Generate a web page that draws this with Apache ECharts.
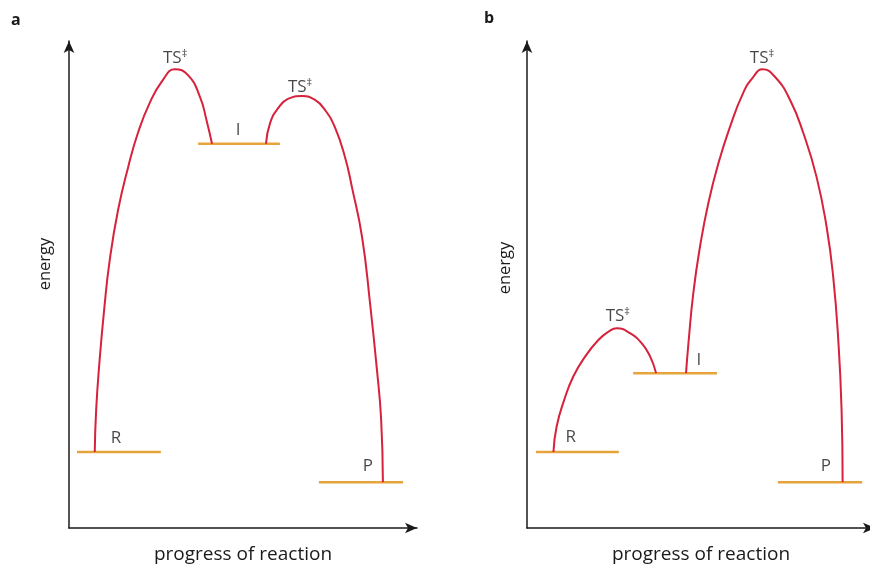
<!DOCTYPE html>
<html>
<head>
<meta charset="utf-8">
<script src="https://cdn.jsdelivr.net/npm/echarts@6/dist/echarts.min.js"></script>
<style>html,body{margin:0;padding:0;background:#fff}#c{width:870px;height:564px}</style>
</head>
<body>
<div id="c"></div>
<script>
// ---- Panel a data (x: progress 0-100, y: energy 0-100) ----
const aCurve1 = [[7.4,15.6],[7.8,24.2],[8.8,34.5],[10.1,44.8],[11.7,55.0],[14.1,65.3],[17.0,74.1],[19.8,81.1],[23.2,87.3],[27.0,92.0],[30.4,94.2],[34.2,93.0],[37.6,88.6],[39.5,83.8],[41.1,78.9]];
const aCurve2 = [[56.6,78.9],[57.8,83.2],[60.1,86.2],[62.9,88.1],[67.0,88.7],[70.7,87.9],[73.6,85.8],[76.4,82.3],[79.3,76.2],[81.3,70.0],[84.2,59.8],[86.5,46.2],[88.5,32.4],[89.7,22.2],[90.2,9.4]];
const aLevels = [[2.3,26.4,15.6],[37.1,60.6,78.9],[71.8,96.0,9.4]];
const aLabels = [[30.5,96.5,'TS'],[66.4,90.6,'TS'],[48.6,81.7,'I'],[13.5,18.5,'R'],[85.9,12.7,'P']];

// ---- Panel b data ----
const bCurve1 = [[7.6,15.6],[8.5,20.8],[10.7,26.3],[13.3,31.1],[16.7,35.2],[20.5,38.6],[23.4,40.3],[25.8,41.0],[29.6,40.0],[33.0,37.9],[35.4,35.2],[37.1,31.8]];
const bCurve2 = [[45.7,31.8],[46.4,38.0],[47.8,48.3],[49.7,57.7],[52.1,66.7],[55.0,74.9],[58.3,82.3],[62.1,89.3],[65.0,92.6],[67.7,94.2],[71.3,92.6],[75.6,87.9],[79.4,81.1],[83.2,72.1],[86.1,61.8],[88.0,51.5],[89.5,38.0],[90.4,24.2],[90.7,9.4]];
const bLevels = [[2.6,26.4,15.6],[30.5,54.6,31.8],[72.1,96.3,9.4]];
const bLabels = [[26.1,43.5,'TS'],[67.5,96.5,'TS'],[49.4,34.5,'I'],[12.6,18.7,'R'],[85.9,12.7,'P']];

const panelNames = ['a','b'];
const xName = 'progress of reaction';
const yName = 'energy';

const RED = '#d6223c', ORANGE = '#e8a43c', INK = '#1a1a1a';
const FONT = 'Open Sans';

function axisCommon(gi, isX){
  return {
    type:'value', gridIndex:gi, min:0, max:100,
    axisLine:{show:true, symbol:['none','arrow'], symbolSize:[8,12], lineStyle:{color:INK,width:1.5}},
    axisTick:{show:false}, axisLabel:{show:false}, splitLine:{show:false},
    name: isX ? xName : '', nameLocation:'middle', nameGap:17,
    nameTextStyle:{fontFamily:FONT,fontSize:19,color:INK}
  };
}

function buildSeries(gi, curves, levels, labels){
  const s = [];
  levels.forEach(l => s.push({type:'line', xAxisIndex:gi, yAxisIndex:gi, data:[[l[0],l[2]],[l[1],l[2]]],
    showSymbol:false, lineStyle:{color:ORANGE,width:2.5}, silent:true, z:2}));
  curves.forEach(c => s.push({type:'line', xAxisIndex:gi, yAxisIndex:gi, data:c, smooth:0.5,
    showSymbol:false, lineStyle:{color:RED,width:2}, silent:true, z:3}));
  s.push({type:'scatter', xAxisIndex:gi, yAxisIndex:gi, symbolSize:1, itemStyle:{color:'rgba(0,0,0,0)'},
    data: labels.map(l => ({value:[l[0],l[1]], name:l[2]})),
    label:{show:true, position:'inside', color:INK, fontFamily:FONT, fontSize:17,
      formatter: p => p.name === 'TS' ? '{m|TS}{s|‡}' : p.name,
      rich:{m:{fontFamily:FONT,fontSize:17,color:INK}, s:{fontFamily:FONT,fontSize:11,color:INK,padding:[0,0,8,0]}}},
    silent:true, z:4});
  return s;
}

const chart = echarts.init(document.getElementById('c'), null, {renderer:'canvas'});
chart.setOption({
  animation:false,
  backgroundColor:'#fff',
  grid:[{left:69, top:41, width:348, height:487, outerBoundsMode:'none', containLabel:false},
        {left:527, top:41, width:348, height:487, outerBoundsMode:'none', containLabel:false}],
  xAxis:[axisCommon(0,true), axisCommon(1,true)],
  yAxis:[axisCommon(0,false), axisCommon(1,false)],
  series:[...buildSeries(0,[aCurve1,aCurve2],aLevels,aLabels), ...buildSeries(1,[bCurve1,bCurve2],bLevels,bLabels)],
  graphic:[
    {type:'text', left:11, top:12, style:{text:panelNames[0], font:'bold 16px '+FONT, fill:INK}},
    {type:'text', left:484, top:10, style:{text:panelNames[1], font:'bold 16px '+FONT, fill:INK}},
    {type:'text', x:45, y:264, rotation:Math.PI/2, style:{text:yName, font:'16.5px '+FONT, fill:INK, align:'center', verticalAlign:'middle'}},
    {type:'text', x:505, y:268, rotation:Math.PI/2, style:{text:yName, font:'16.5px '+FONT, fill:INK, align:'center', verticalAlign:'middle'}}
  ]
});
</script>
</body>
</html>
